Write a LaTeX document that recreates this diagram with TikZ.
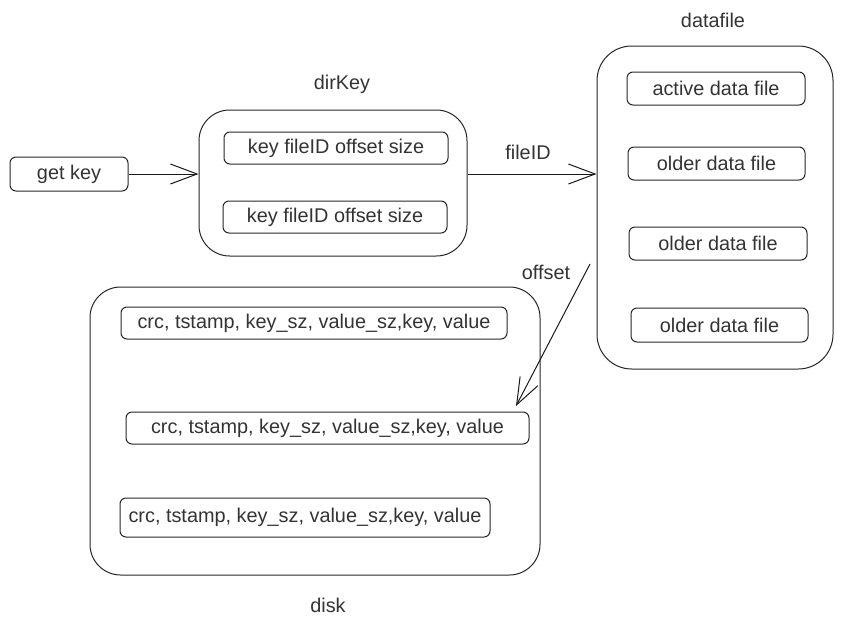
\documentclass[tikz,border=0pt]{standalone}
\usepackage{fontspec}
\setmainfont{Liberation Sans}
\usetikzlibrary{arrows.meta}
\begin{document}
\begin{tikzpicture}[x=0.75pt,y=-0.75pt,
  every node/.style={font=\fontsize{14.9}{18}\selectfont, text=black!80},
  sz/.style 2 args={minimum width=#1*0.75pt, minimum height=#2*0.75pt},
  box/.style={draw=black!85, line width=0.75pt, rounded corners=4.5pt, inner sep=0pt},
  group/.style={draw=black!85, line width=0.75pt, rounded corners=23pt, inner sep=0pt},
  caption/.style={inner sep=0pt},
  link/.style={draw=black!90, line width=0.75pt, -{Straight Barb[length=20pt,width=15pt,line width=0.75pt]}}]
  \useasboundingbox (0,0) rectangle (842,625);

  % request
  \node[box, sz={118}{34}] (getkey) at (69,174) {get key};

  % in-memory key directory
  \node[group, sz={268}{146}] (dirKey) at (333,183) {};
  \node[box, sz={224}{32}] (entry1) at (336,148) {key fileID offset size};
  \node[box, sz={224}{32}] (entry2) at (335,217) {key fileID offset size};
  \node[caption] (dirKeyLabel) at (342,84) {dirKey};

  % data files
  \node[group, rounded corners=26pt, sz={236}{323}] (datafile) at (715,207.5) {};
  \node[box, sz={178}{33}] (active) at (716,88.5) {active data file};
  \node[box, sz={177}{33}] (older1) at (716.5,163.5) {older data file};
  \node[box, sz={178}{33}] (older2) at (718,243.5) {older data file};
  \node[box, sz={177}{34}] (older3) at (719.5,325) {older data file};
  \node[caption] (datafileLabel) at (713,20) {datafile};

  % records on disk
  \node[group, sz={450}{288}] (disk) at (315,431) {};
  \node[box, sz={386}{32}] (rec1) at (314,323) {crc, tstamp, key\_sz, value\_sz,key, value};
  \node[box, sz={403}{32}] (rec2) at (327.5,428) {crc, tstamp, key\_sz, value\_sz,key, value};
  \node[box, sz={370}{39}] (rec3) at (305,517.5) {crc, tstamp, key\_sz, value\_sz,key, value};
  \node[caption] (diskLabel) at (328,605) {disk};

  % connectors
  \draw[link] (getkey.east) -- (getkey.east -| dirKey.west);
  \draw[link] (getkey.east -| dirKey.east) -- (getkey.east -| datafile.west);
  \node[caption] (fileIDLabel) at (528,152) {fileID};

  \coordinate (offStart) at (590,264);
  \coordinate (offEnd) at (516,406);
  \draw[link] (offStart) -- (offEnd);
  \node[caption] (offsetLabel) at (546,272) {offset};
\end{tikzpicture}
\end{document}
